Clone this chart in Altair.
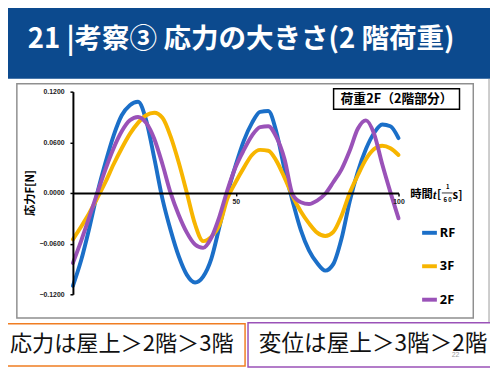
import altair as alt
import pandas as pd

# ---- data ----
t = [0, 2.5, 5, 7.5, 10, 12.5, 15, 17.5, 20, 22.5, 25, 27.5, 30, 32.5, 35, 37.5, 40,
     42.5, 45, 47.5, 50, 52.5, 55, 57.5, 60, 62.5, 65, 67.5, 70, 72.5, 75, 77.5, 80,
     82.5, 85, 87.5, 90, 92.5, 95, 97.5, 100]

rf = [-0.110, -0.080, -0.042, 0.000, 0.036, 0.068, 0.092, 0.104, 0.108, 0.086, 0.041,
      -0.007, -0.044, -0.075, -0.097, -0.106, -0.099, -0.078, -0.040, 0.000, 0.033,
      0.062, 0.083, 0.096, 0.097, 0.072, 0.028, -0.010, -0.044, -0.068, -0.083, -0.092,
      -0.084, -0.054, -0.010, 0.025, 0.052, 0.071, 0.081, 0.079, 0.065]

f3 = [-0.055, -0.040, -0.024, -0.006, 0.013, 0.034, 0.053, 0.070, 0.083, 0.092, 0.095,
      0.089, 0.067, 0.036, 0.000, -0.037, -0.057, -0.052, -0.038, -0.006, 0.013, 0.030,
      0.045, 0.051, 0.050, 0.038, 0.018, -0.004, -0.022, -0.036, -0.047, -0.051, -0.046,
      -0.027, 0.000, 0.021, 0.040, 0.052, 0.056, 0.053, 0.045]

f2 = [-0.083, -0.057, -0.029, 0.000, 0.028, 0.053, 0.073, 0.086, 0.090, 0.083, 0.064,
      0.034, 0.000, -0.026, -0.047, -0.061, -0.065, -0.053, -0.028, 0.004, 0.031, 0.051,
      0.068, 0.078, 0.079, 0.066, 0.040, -0.002, -0.011, -0.013, -0.009, -0.001, 0.013,
      0.028, 0.050, 0.076, 0.086, 0.070, 0.034, 0.001, -0.030]

series_names = ["RF", "3F", "2F"]
series_colors = ["#1b6fc8", "#f7b500", "#9a52b8"]
y_ticks = [-0.12, -0.06, 0.0, 0.06, 0.12]
x_ticks = [50, 100]

title_text = "21 |考察③ 応力の大きさ(2 階荷重)"
note_text = "荷重2F（2階部分）"
y_title = "応力F[N]"
box1_text = "応力は屋上＞2階＞3階"
box2_text = "変位は屋上＞3階＞2階"

df = pd.DataFrame({
    "t": t * 3,
    "value": rf + f3 + f2,
    "series": ["RF"] * len(t) + ["3F"] * len(t) + ["2F"] * len(t),
})
one = pd.DataFrame({"k": [0]})

JP = "Noto Sans CJK JP"


def rect(x, x2, y, y2, **kw):
    return alt.Chart(one).mark_rect(**kw).encode(
        x=alt.value(x), x2=alt.value(x2), y=alt.value(y), y2=alt.value(y2))


def text(s, x, y, **kw):
    return alt.Chart(one).mark_text(text=s, **kw).encode(x=alt.value(x), y=alt.value(y))


banner = rect(-74, 424, -90, -13, color="#0c4a8e")
title = text(title_text, -46, -44, font=JP, fontSize=28, fontWeight="bold", color="white",
             align="left", baseline="alphabetic")
frame = rect(-57, 407, -8, 230, fill="white", stroke="#8f8f8f", strokeWidth=1.5)
slide_edge = alt.Chart(one).mark_rule(color="#9a9a9a", strokeWidth=1).encode(
    x=alt.value(423), y=alt.value(-13), y2=alt.value(235))

note_box = rect(265, 393, -3, 18, fill="white", stroke="black", strokeWidth=1.5)
note = text(note_text, 329, 8, font=JP, fontSize=13, fontWeight="bold", color="black",
            align="center", baseline="middle")

ytitle = text(y_title, -43, 103, font=JP, fontSize=11.5, fontWeight="bold", color="black",
              angle=270, align="center", baseline="middle")

xt1 = text("時間", 343, 105, font=JP, fontSize=11.5, fontWeight="bold", color="black",
           align="left", baseline="middle")
xt2 = text("t", 366, 105, font="Liberation Serif", fontSize=12, fontWeight="bold",
           fontStyle="italic", color="black", align="left", baseline="middle")
xt3 = text("[", 370, 105, font=JP, fontSize=11.5, fontWeight="bold", color="black",
           align="left", baseline="middle")
frac_n = text("1", 381, 97, font=JP, fontSize=6, fontWeight="bold", color="black",
              align="center", baseline="middle")
frac_bar = alt.Chart(one).mark_rule(color="black", strokeWidth=0.8).encode(
    x=alt.value(375), x2=alt.value(386), y=alt.value(103))
frac_d = text("6 0", 381, 110, font=JP, fontSize=6, fontWeight="bold", color="black",
              align="center", baseline="middle")
xt4 = text("s]", 386, 106, font=JP, fontSize=11.5, fontWeight="bold", color="black",
           align="left", baseline="middle")

axis_common = dict(title=None, grid=False, domainColor="black", domainWidth=2,
                   tickColor="black", tickSize=3, tickWidth=1.5, labelFontSize=7,
                   labelFontWeight="bold", labelColor="#222", labelFont="Liberation Sans",
                   labelFlush=False, zindex=1)

lines = alt.Chart(df).mark_line(strokeWidth=4, interpolate="monotone", strokeCap="round").encode(
    x=alt.X("t:Q", scale=alt.Scale(domain=[0, 100], nice=False),
            axis=alt.Axis(values=x_ticks, offset=-103, labelPadding=2, **axis_common)),
    y=alt.Y("value:Q", scale=alt.Scale(domain=[-0.12, 0.12], nice=False, zero=False),
            axis=alt.Axis(values=y_ticks, format=".4f", labelPadding=6, **axis_common)),
    color=alt.Color("series:N", sort=series_names,
                    scale=alt.Scale(domain=series_names, range=series_colors),
                    legend=alt.Legend(orient="none", legendX=353, legendY=134, title=None,
                                      symbolType="stroke", symbolStrokeWidth=4,
                                      symbolSize=225, labelFontSize=13,
                                      labelFontWeight="bold", labelColor="black",
                                      labelFont="Noto Sans", rowPadding=16,
                                      labelOffset=1, padding=0)),
)

box1 = rect(-71, 175, 236, 279, fill="white", stroke="#f07d22", strokeWidth=1.5)
box1t = text(box1_text, -64, 257, font=JP, fontSize=22.5, color="#111",
             align="left", baseline="middle")
box2 = rect(178, 430, 235, 280, fill="white", stroke="#9a52b8", strokeWidth=1.5)
box2t = text(box2_text, 189, 257, font=JP, fontSize=23, color="#111",
             align="left", baseline="middle")
pagenum = text("22", 389, 268, font="Liberation Sans", fontSize=7, color="#9a9a9a",
               align="center", baseline="middle")

chart = alt.layer(
    banner, title, slide_edge, frame, note_box, note, ytitle,
    xt1, xt2, xt3, frac_n, frac_bar, frac_d, xt4,
    lines, box1, box1t, box2, box2t, pagenum,
).properties(
    width=331, height=206,
    padding={"left": 66, "top": 82, "right": 93, "bottom": 78},
    autosize=alt.AutoSizeParams(type="none"),
    background="white",
).configure_view(stroke=None)

chart.save("out.html", embed_options={"renderer": "svg", "actions": False})
